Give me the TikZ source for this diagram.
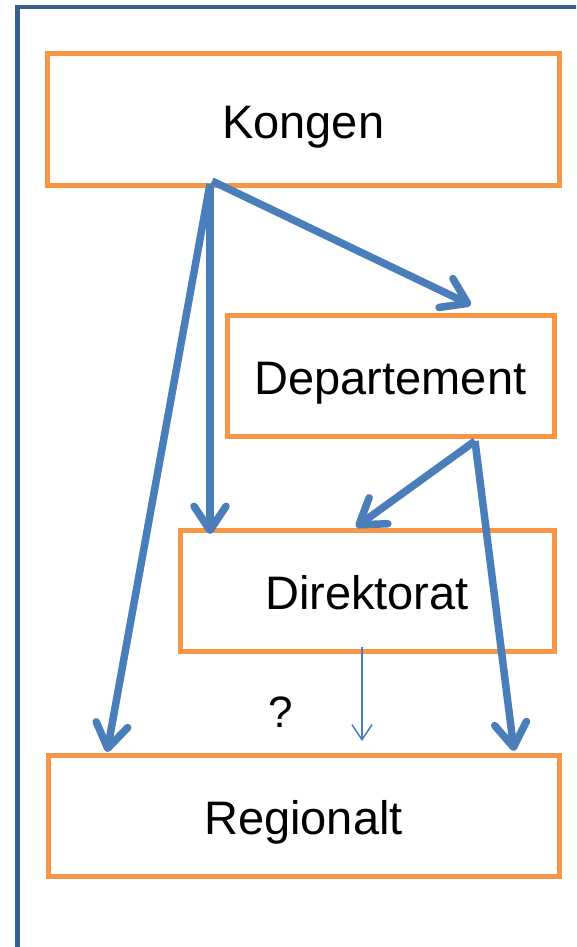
\documentclass[tikz,border=0pt]{standalone}
\usepackage{fontspec}
\setmainfont{Liberation Sans}
\usetikzlibrary{arrows.meta}
\definecolor{frameblue}{HTML}{3A5F8B}
\definecolor{boxorange}{HTML}{F79646}
\definecolor{arrowblue}{HTML}{4A7EBB}
\begin{document}
\begin{tikzpicture}[x=1pt,y=-1pt,
  box/.style={draw=boxorange, line width=5pt, rectangle, inner sep=0pt,
    font=\fontsize{47}{56}\selectfont, text height=38pt, text depth=0pt},
  bigarrow/.style={draw=arrowblue, line width=7.5pt,
    -{Straight Barb[length=24pt,width=32pt,round]}},
  thinarrow/.style={draw=arrowblue, line width=1.5pt,
    -{Straight Barb[length=15pt,width=20pt]}},
  qlabel/.style={font=\fontsize{44}{52}\selectfont, inner sep=0pt}]
\useasboundingbox (0,0) rectangle (576,947);
\clip (0,0) rectangle (576,947);
\draw[frameblue, line width=4.5pt] (17.5,7) rectangle (620,949.5);

\node[box, minimum width=511.5pt, minimum height=131pt] (k) at (303.25,119.5) {Kongen};
\node[box, minimum width=327pt, minimum height=121pt] (dep) at (390.5,375.5) {Departement};
\node[box, minimum width=374pt, minimum height=121pt] (dir) at (367,590.5) {Direktorat};
\node[box, minimum width=511pt, minimum height=121pt] (reg) at (303.5,815.5) {Regionalt};
\node[qlabel] (q) at (281,712) {?};

\coordinate (ks1) at (212,181);
\coordinate (ks2) at (210,184);
\coordinate (dt) at (471,305);
\coordinate (dirt) at (210,534);
\coordinate (regt1) at (107,752);
\coordinate (ds) at (475,441);
\coordinate (dirt2) at (356,527);
\coordinate (regt2) at (514,751);
\coordinate (dirs) at (362,647);
\coordinate (regt3) at (362,741);

\draw[bigarrow] (ks1) -- (dt);
\draw[bigarrow] (ks2) -- (dirt);
\draw[bigarrow] (ks2) -- (regt1);
\draw[bigarrow] (ds) -- (dirt2);
\draw[bigarrow] (ds) -- (regt2);
\draw[thinarrow] (dirs) -- (regt3);
\end{tikzpicture}
\end{document}
